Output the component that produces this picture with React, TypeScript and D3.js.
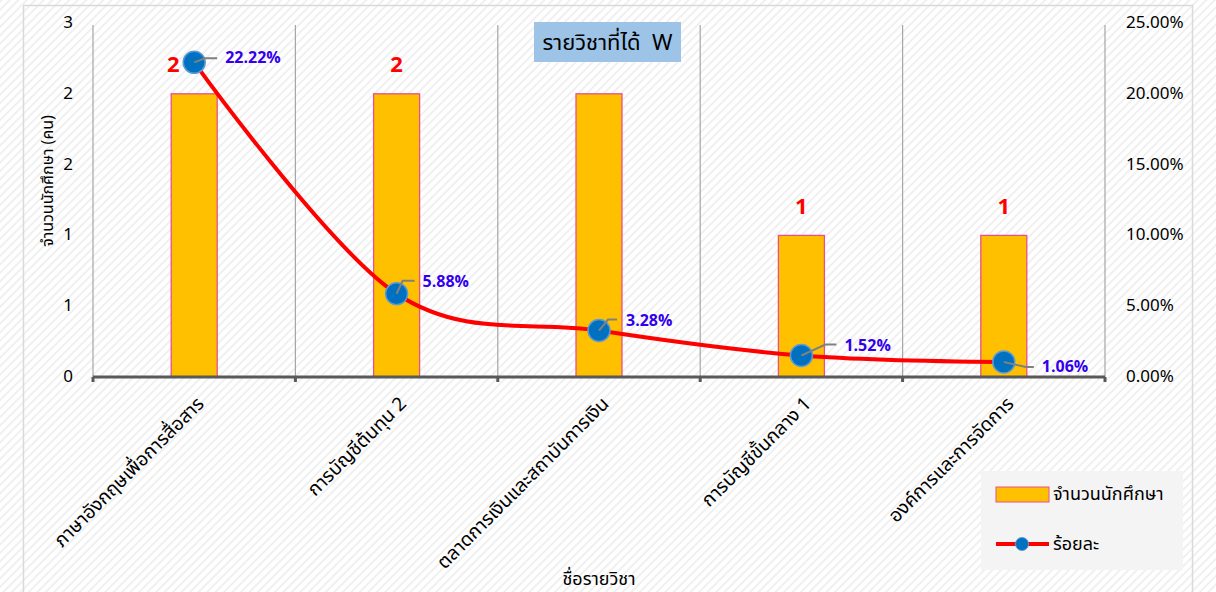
import React from "react";
import * as d3 from "d3";

const categories = [
  "ภาษาอังกฤษเพื่อการสื่อสาร",
  "การบัญชีต้นทุน 2",
  "ตลาดการเงินและสถาบันการเงิน",
  "การบัญชีขั้นกลาง 1",
  "องค์การและการจัดการ",
];
const students = [2, 2, 2, 1, 1];
const percents = [22.22, 5.88, 3.28, 1.52, 1.06];
const showBarLabel = [true, true, false, true, true];
const leftTicks = [0, 0.5, 1, 1.5, 2, 2.5];
const rightTicks = [0, 5, 10, 15, 20, 25];
const titleText = "รายวิชาที่ได้  W";
const yTitle = "จำนวนนักศึกษา (คน)";
const xTitle = "ชื่อรายวิชา";
const legendBar = "จำนวนนักศึกษา";
const legendLine = "ร้อยละ";

// layout offsets for data labels (styles, not data)
const barLabelDx = [-21, 0, 0, 0, 0];
const pctLeader = [
  { ex: 11, ey: -4, hx: 23, tx: 31, ty: -4 },
  { ex: 6, ey: -13, hx: 18, tx: 26, ty: -12 },
  { ex: 9, ey: -11, hx: 18, tx: 27, ty: -10 },
  { ex: 24, ey: -11, hx: 35, tx: 43, ty: -9 },
  { ex: 22, ey: 5, hx: 30, tx: 38, ty: 5 },
];

const W = 1216;
const H = 592;
const left = 93;
const right = 1105;
const top = 23;
const bottom = 377;
const FONT = "'Noto Sans Thai', 'Noto Sans', 'Open Sans', sans-serif";

export default function App() {
  const x = d3.scaleBand<string>().domain(categories).range([left, right]).padding(0);
  const yL = d3.scaleLinear().domain([0, 2.5]).range([bottom, top]);
  const yR = d3.scaleLinear().domain([0, 25]).range([bottom, top]);
  const bw = 46;
  const cx = (c: string) => (x(c) as number) + x.bandwidth() / 2;

  const pts: [number, number][] = categories.map((c, i) => [cx(c), yR(percents[i])]);
  const line = d3.line<[number, number]>().x((d) => d[0]).y((d) => d[1]).curve(d3.curveCatmullRom.alpha(0));
  const boundaries = categories.map((c) => x(c) as number).concat([right]);

  return (
    <svg
      width={W}
      height={H}
      style={{ position: "absolute", left: 0, top: 0, fontFamily: FONT }}
    >
      <defs>
        <pattern id="hatch" width="6" height="6" patternUnits="userSpaceOnUse" patternTransform="rotate(45)">
          <rect width="6" height="6" fill="#ffffff" />
          <line x1="1" y1="0" x2="1" y2="6" stroke="#f0f0f0" strokeWidth="2" />
        </pattern>
      </defs>
      <rect x={0} y={0} width={W} height={H} fill="url(#hatch)" />
      <rect x={23.5} y={5.5} width={1169} height={600} fill="none" stroke="#d9d9d9" strokeWidth={1.5} />

      {/* vertical gridlines */}
      {boundaries.map((b, i) => (
        <line key={"g" + i} x1={b} x2={b} y1={25} y2={bottom} stroke="#a6a6a6" strokeWidth={1.2} />
      ))}

      {/* title */}
      <rect x={534} y={22} width={147} height={40} fill="#9DC3E6" />
      <text
        x={607.5}
        y={43}
        textAnchor="middle"
        dominantBaseline="central"
        fontSize={22}
        fill="#000"
        style={{ whiteSpace: "pre" }}
      >
        {titleText}
      </text>

      {/* bars */}
      {categories.map((c, i) => (
        <rect
          key={"b" + i}
          x={cx(c) - bw / 2}
          y={yL(students[i])}
          width={bw}
          height={bottom - yL(students[i])}
          fill="#FFC000"
          stroke="#E8508A"
          strokeWidth={1.3}
        />
      ))}

      {/* x axis */}
      <line x1={left} x2={right} y1={bottom} y2={bottom} stroke="#595959" strokeWidth={3} />
      {boundaries.map((b, i) => (
        <line key={"t" + i} x1={b} x2={b} y1={bottom} y2={bottom + 5} stroke="#595959" strokeWidth={3} />
      ))}

      {/* line */}
      <path d={line(pts) || ""} fill="none" stroke="#FF0000" strokeWidth={4} />
      {pts.map((p, i) => (
        <circle key={"m" + i} cx={p[0]} cy={p[1]} r={11} fill="#0070C0" stroke="#5B9BD5" strokeWidth={1.5} />
      ))}
      {pts.map((p, i) => {
        const o = pctLeader[i];
        return (
          <g key={"pl" + i}>
            <polyline
              points={`${p[0]},${p[1]} ${p[0] + o.ex},${p[1] + o.ey} ${p[0] + o.hx},${p[1] + o.ey}`}
              fill="none"
              stroke="#808080"
              strokeWidth={2}
            />
            <text
              x={p[0] + o.tx}
              y={p[1] + o.ty}
              dominantBaseline="central"
              fontSize={16}
              fontWeight="bold"
              fill="#3300EE"
            >
              {percents[i].toFixed(2) + "%"}
            </text>
          </g>
        );
      })}

      {/* bar labels */}
      {categories.map((c, i) =>
        showBarLabel[i] ? (
          <text
            key={"bl" + i}
            x={cx(c) + barLabelDx[i]}
            y={yL(students[i]) - 28}
            textAnchor="middle"
            dominantBaseline="central"
            fontSize={22}
            fontWeight="bold"
            fill="#FF0000"
          >
            {String(students[i])}
          </text>
        ) : null
      )}

      {/* left axis labels */}
      {leftTicks.map((t, i) => (
        <text key={"lt" + i} x={73} y={yL(t)} textAnchor="end" dominantBaseline="central" fontSize={17} fill="#000">
          {String(Math.round(t))}
        </text>
      ))}
      {/* right axis labels */}
      {rightTicks.map((t, i) => (
        <text key={"rt" + i} x={1126} y={yR(t)} textAnchor="start" dominantBaseline="central" fontSize={17} fill="#000">
          {t.toFixed(2) + "%"}
        </text>
      ))}

      {/* category labels */}
      {categories.map((c, i) => (
        <text
          key={"cl" + i}
          transform={`translate(${cx(c) + 7},${bottom + 24}) rotate(-45)`}
          textAnchor="end"
          dominantBaseline="central"
          fontSize={19}
          fill="#000"
        >
          {c}
        </text>
      ))}

      {/* axis titles */}
      <text
        transform={`translate(48,181) rotate(-90)`}
        textAnchor="middle"
        dominantBaseline="central"
        fontSize={16}
        fill="#000"
      >
        {yTitle}
      </text>
      <text x={599} y={579} textAnchor="middle" dominantBaseline="central" fontSize={18} fill="#000">
        {xTitle}
      </text>

      {/* legend */}
      <rect x={981} y={471} width={202} height={99} fill="#f4f4f4" />
      <rect x={996} y={487} width={53} height={15} fill="#FFC000" stroke="#E8508A" strokeWidth={1} />
      <text x={1053} y={494} dominantBaseline="central" fontSize={18} fill="#000">
        {legendBar}
      </text>
      <line x1={996} x2={1049} y1={544} y2={544} stroke="#FF0000" strokeWidth={4} />
      <circle cx={1022} cy={544} r={6.5} fill="#0070C0" stroke="#5B9BD5" strokeWidth={1} />
      <text x={1053} y={544} dominantBaseline="central" fontSize={18} fill="#000">
        {legendLine}
      </text>
    </svg>
  );
}
